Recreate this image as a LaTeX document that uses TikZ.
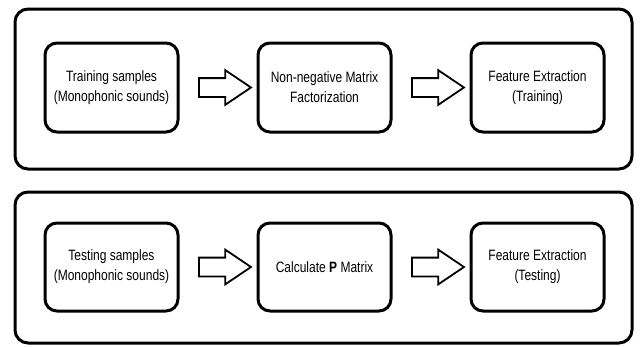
\documentclass[tikz,border=0pt]{standalone}
\usepackage{fontspec}
\setmainfont{Liberation Sans}[FakeStretch=0.8]
\usetikzlibrary{shapes.arrows,calc}

\begin{document}
\begin{tikzpicture}[x=1pt, y=-1pt,
		stagebox/.style={draw, line width=3pt, rounded corners=12pt, minimum width=133pt, align=center, font=\fontsize{15}{20}\selectfont},
		groupbox/.style={draw, line width=3pt, rounded corners=13pt},
		flowarrow/.style={draw, line width=1.8pt, single arrow, single arrow head extend=8pt, single arrow tip angle=68, inner sep=8.5pt, minimum height=52pt}]
		
		\useasboundingbox (0,0) rectangle (642,346);
		
		% training
		\draw[groupbox] (15,9) rectangle (632,169);
		\node[stagebox, minimum height=89pt] (train) at (111.5,87.5) {Training samples\\(Monophonic sounds)};
		\node[stagebox, minimum height=89pt] (nmf) at (324.5,87.5) {Non-negative Matrix\\Factorization};
		\node[stagebox, minimum height=89pt] (ftrain) at (537.5,87.5) {Feature Extraction\\(Training)};
		\node[flowarrow] (a1) at ($(train.east)!0.5!(nmf.west)$) {};
		\node[flowarrow] (a2) at ($(nmf.east)!0.5!(ftrain.west)$) {};
		
		% testing
		\draw[groupbox] (15,192) rectangle (632,343);
		\node[stagebox, minimum height=88pt] (test) at (111.5,267) {Testing samples\\(Monophonic sounds)};
		\node[stagebox, minimum height=88pt] (pmat) at (324.5,267) {Calculate \textbf{P} Matrix};
		\node[stagebox, minimum height=88pt] (ftest) at (537.5,267) {Feature Extraction\\(Testing)};
		\node[flowarrow] (a3) at ($(test.east)!0.5!(pmat.west)$) {};
		\node[flowarrow] (a4) at ($(pmat.east)!0.5!(ftest.west)$) {};
		
	\end{tikzpicture}
\end{document}
